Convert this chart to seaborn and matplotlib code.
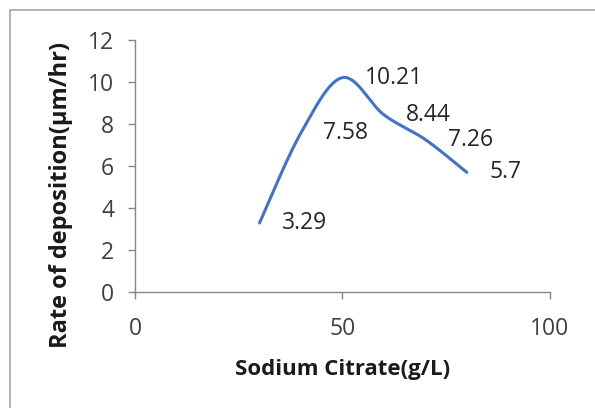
import numpy as np
import pandas as pd
import matplotlib
matplotlib.use("Agg")
import matplotlib.pyplot as plt
from matplotlib.lines import Line2D
import seaborn as sns

# Deposition rate against sodium citrate concentration
citrate = [30, 40, 50, 60, 70, 80]          # g/L
rate = [3.29, 7.58, 10.21, 8.44, 7.26, 5.7]  # µm/hr
rate_labels = ["3.29", "7.58", "10.21", "8.44", "7.26", "5.7"]
x_ticks = [0, 50, 100]
y_ticks = [0, 2, 4, 6, 8, 10, 12]


def smooth_curve(xs, ys, n=40):
    """Catmull-Rom style cubic Bezier through every point (smoothed line)."""
    p = np.column_stack([xs, ys]).astype(float)
    ext = np.vstack([p[0], p, p[-1]])
    out = []
    t = np.linspace(0, 1, n)[:, None]
    for i in range(len(p) - 1):
        p0, p1, p2, p3 = ext[i], ext[i + 1], ext[i + 2], ext[i + 3]
        c1 = p1 + (p2 - p0) / 6.0
        c2 = p2 - (p3 - p1) / 6.0
        seg = ((1 - t) ** 3) * p1 + 3 * ((1 - t) ** 2) * t * c1 \
            + 3 * (1 - t) * t ** 2 * c2 + t ** 3 * p2
        out.append(seg if i == 0 else seg[1:])
    s = np.vstack(out)
    return s[:, 0], s[:, 1]


sns.set_style("white")
plt.rcParams["font.family"] = ["Open Sans", "DejaVu Sans"]

fig = plt.figure(figsize=(5.95, 4.08), dpi=100)
ax = fig.add_axes([0.227, 0.284, 0.697, 0.618])

sx, sy = smooth_curve(citrate, rate)
curve = pd.DataFrame({"citrate": sx, "rate": sy})
sns.lineplot(data=curve, x="citrate", y="rate", sort=False, ax=ax,
             color="#4472C4", linewidth=2.2, estimator=None)

for xv, yv, lab in zip(citrate, rate, rate_labels):
    ax.annotate(lab, (xv, yv), xytext=(16, 0), textcoords="offset points",
                ha="left", va="center", fontsize=16.5, color="#262626")

ax.set_xlim(0, 100)
ax.set_ylim(0, 12)
ax.set_xticks(x_ticks)
ax.set_yticks(y_ticks)
ax.tick_params(axis="both", which="both", direction="out", length=5,
               width=1, color="#868686", labelsize=16.5, labelcolor="#404040",
               bottom=True, left=True)
ax.tick_params(axis="x", pad=13)
ax.tick_params(axis="y", pad=10)
for side in ("top", "right"):
    ax.spines[side].set_visible(False)
for side in ("left", "bottom"):
    ax.spines[side].set_color("#868686")
    ax.spines[side].set_linewidth(1)

ax.set_xlabel("Sodium Citrate(g/L)", fontsize=16, fontweight="bold",
              color="#1a1a1a", labelpad=13)
ax.set_ylabel("Rate of deposition(µm/hr)", fontsize=17, fontweight="bold",
              color="#1a1a1a")
ax.yaxis.set_label_coords(-0.15, 0.385)

# chart area frame (top and left edges)
fig.add_artist(Line2D([10 / 595, 1.0], [1 - 10 / 408, 1 - 10 / 408],
                      transform=fig.transFigure, color="#a6a6a6", lw=1.2))
fig.add_artist(Line2D([10 / 595, 10 / 595], [0.0, 1 - 10 / 408],
                      transform=fig.transFigure, color="#a6a6a6", lw=1.2))

fig.savefig("out.png", dpi=100)
